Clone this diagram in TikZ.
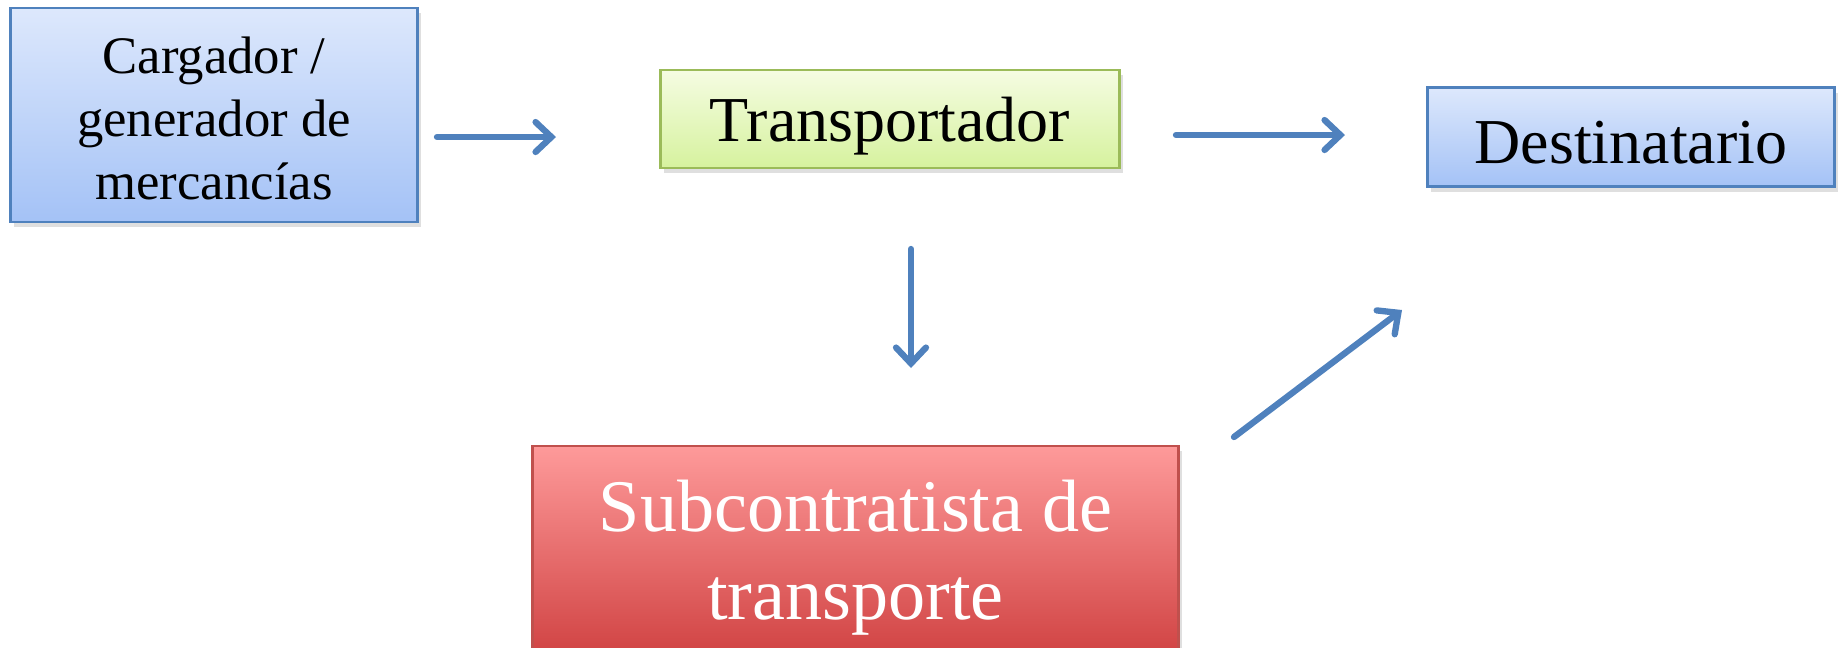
\documentclass[tikz,border=0pt]{standalone}
\usepackage{fontspec}
\setmainfont{Liberation Serif}
\usetikzlibrary{arrows.meta,shadows}

\definecolor{azulborde}{HTML}{4F81BD}
\definecolor{azularriba}{HTML}{DDE8FC}
\definecolor{azulabajo}{HTML}{A4C2F6}
\definecolor{verdeborde}{HTML}{9BBB59}
\definecolor{verdearriba}{HTML}{F5FCE2}
\definecolor{verdeabajo}{HTML}{D6F29E}
\definecolor{rojoborde}{HTML}{C0504D}
\definecolor{rojoarriba}{HTML}{FE9A9A}
\definecolor{rojomedio}{HTML}{F08A88}
\definecolor{rojoabajo}{HTML}{D04242}

\begin{document}
\begin{tikzpicture}[x=0.01cm, y=-0.01cm,
    caja/.style={draw, line width=0.8pt, align=center, inner sep=0pt,
        drop shadow={opacity=0.25, shadow xshift=1pt, shadow yshift=-1.5pt}},
    cajaazul/.style={caja, draw=azulborde, top color=azularriba, bottom color=azulabajo},
    flecha/.style={draw=azulborde, line width=1.8pt, line cap=round,
        -{Straight Barb[length=4.5pt, width=8.5pt, line cap=round]}}]
    \useasboundingbox (0,0) rectangle (1841,647);

    % Cargador
    \node[cajaazul, minimum width=4.06cm, minimum height=2.14cm,
        font=\fontsize{15}{17.9}\selectfont] (cargador) at (214,115)
        {\rule{0pt}{12.5pt}Cargador /\\generador de\\mercancías};

    % Transportador
    \node[caja, draw=verdeborde, top color=verdearriba, bottom color=verdeabajo,
        minimum width=4.58cm, minimum height=0.98cm, text height=16.5pt,
        font=\fontsize{18.2}{21.8}\selectfont] (transportador) at (890,119)
        {Transportador};

    % Destinatario
    \node[cajaazul, minimum width=4.07cm, minimum height=0.99cm, text height=15.5pt,
        font=\fontsize{18.2}{21.8}\selectfont] (destinatario) at (1631,137)
        {Destinatario};

    % Subcontratista
    \node[caja, draw=rojoborde, top color=rojoarriba, middle color=rojomedio,
        bottom color=rojoabajo, text=white, minimum width=6.45cm, minimum height=2.12cm,
        font=\fontsize{21.1}{25}\selectfont] (subcontratista) at (855.5,552)
        {\rule{0pt}{18pt}Subcontratista de\\transporte};

    % Flechas
    \coordinate (f1a) at (437,137);
    \coordinate (f1b) at (556,137);
    \coordinate (f2a) at (1176,135);
    \coordinate (f2b) at (1345,135);
    \coordinate (f3a) at (911,249);
    \coordinate (f3b) at (911,368);
    \coordinate (f4a) at (1234,437);
    \coordinate (f4b) at (1402,310);
    \draw[flecha] (f1a) -- (f1b);
    \draw[flecha] (f2a) -- (f2b);
    \draw[flecha] (f3a) -- (f3b);
    \draw[flecha] (f4a) -- (f4b);
\end{tikzpicture}
\end{document}
